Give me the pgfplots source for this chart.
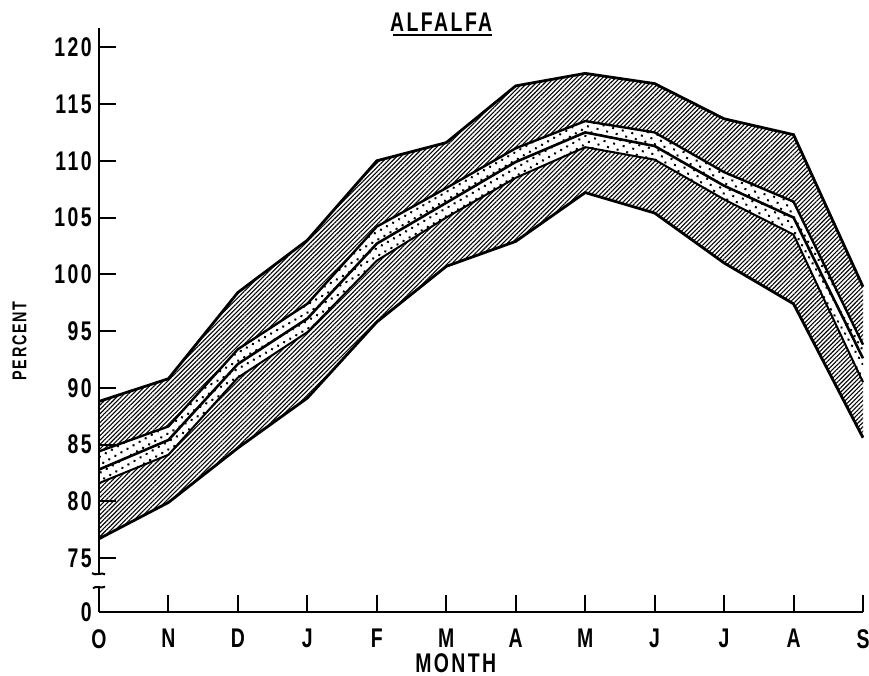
\documentclass[border=0pt]{standalone}
\usepackage{pgfplots}
\pgfplotsset{compat=1.18}
\usepackage{pgfplotstable}
\usepgfplotslibrary{fillbetween}
\usetikzlibrary{patterns.meta}
\usepackage{fontspec}
\setmainfont{Liberation Sans}[UprightFont=* Bold, FakeStretch=0.72, LetterSpace=9]

\pgfplotstableread{
m  ou     iu     c      il     ol
0  88.8   84.4   82.8   81.6   76.7
1  90.8   86.6   85.4   84.1   79.9
2  98.4   93.4   92.1   90.9   84.7
3  103.0  97.4   96.1   94.9   89.1
4  110.0  104.2  102.7  101.2  95.8
5  111.6  107.6  106.3  105.0  100.7
6  116.6  111.1  109.9  108.5  102.9
7  117.7  113.5  112.5  111.2  107.2
8  116.8  112.5  111.3  110.1  105.4
9  113.7  109.0  107.8  106.6  101.0
10 112.3  106.4  105.0  103.5  97.4
11 98.9   93.8   92.6   90.5   85.6
}\data

\begin{document}
\begin{tikzpicture}
\begin{axis}[
  name=ax,
  scale only axis,
  width=382pt, height=292pt,
  xmin=0, xmax=11,
  ymin=70.25, ymax=121.7,
  axis lines=left,
  x axis line style={line width=1.3pt,-},
  y axis line style={draw=none},
  clip=false,
  tick align=inside,
  major tick length=8.5pt,
  tick style={line width=1pt,black},
  xtick={0,1,2,3,4,5,6,7,8,9,10,11},
  xticklabels={O,N,D,J,F,M,A,M,J,J,A,S},
  ytick={70.25,75,80,85,90,95,100,105,110,115,120},
  yticklabels={0,75,80,85,90,95,100,105,110,115,120},
  ticklabel style={font=\fontsize{13.5}{15}\selectfont},
  xticklabel style={inner sep=0pt, yshift=-8.5pt, anchor=north},
  yticklabel style={inner sep=0pt, xshift=-3.5pt, anchor=east},
]
% invisible boundary paths
\addplot[name path=ou, draw=none] table[x=m,y=ou]{\data};
\addplot[name path=iu, draw=none] table[x=m,y=iu]{\data};
\addplot[name path=il, draw=none] table[x=m,y=il]{\data};
\addplot[name path=ol, draw=none] table[x=m,y=ol]{\data};
% fills
\addplot[draw=none, pattern={Lines[angle=45,distance=1.55pt,line width=0.55pt]}] fill between[of=ou and iu];
\addplot[draw=none, pattern={Lines[angle=45,distance=1.55pt,line width=0.55pt]}] fill between[of=il and ol];
\addplot[draw=none, pattern={Dots[angle=30,distance=3.5pt,radius=0.7pt]}] fill between[of=iu and il];
% lines
\addplot[line width=1.4pt, black] table[x=m,y=ou]{\data};
\addplot[line width=1.2pt, black] table[x=m,y=iu]{\data};
\addplot[line width=1.3pt, black] table[x=m,y=c]{\data};
\addplot[line width=1.0pt, black] table[x=m,y=il]{\data};
\addplot[line width=1.4pt, black] table[x=m,y=ol]{\data};
% broken y axis
\draw[line width=1.3pt] (axis cs:0,70.25) -- (axis cs:0,72.45);
\draw[line width=1pt] (axis cs:0,72.45) ++(-3pt,-0.6pt) .. controls ++(1.2pt,1.5pt) and ++(-1.2pt,-1.2pt) .. ++(6pt,0.8pt);
\draw[line width=1.3pt] (axis cs:0,73.6) -- (axis cs:0,121.7);
\draw[line width=1pt] (axis cs:0,73.6) ++(-3.5pt,0.4pt) .. controls ++(1.5pt,-1.5pt) and ++(-1.2pt,1.2pt) .. ++(6.5pt,-0.6pt);
% labels
\node[rotate=90, font=\fontsize{10}{11}\selectfont] at (rel axis cs:-0.104,0.464) {PERCENT};
\node[font=\fontsize{13.5}{15}\selectfont] at (rel axis cs:0.467,-0.0873) {MONTH};
\node[font=\fontsize{13.5}{15}\selectfont] at (rel axis cs:0.448,1.0103) {ALFALFA};
\draw[line width=1.1pt] (rel axis cs:0.3848,0.988) -- (rel axis cs:0.5144,0.988);
\end{axis}
\pgfresetboundingbox
\path ([shift={(-49.5pt,-32pt)}]ax.south west) rectangle ([shift={(3pt,14pt)}]ax.north east);
\end{tikzpicture}
\end{document}
